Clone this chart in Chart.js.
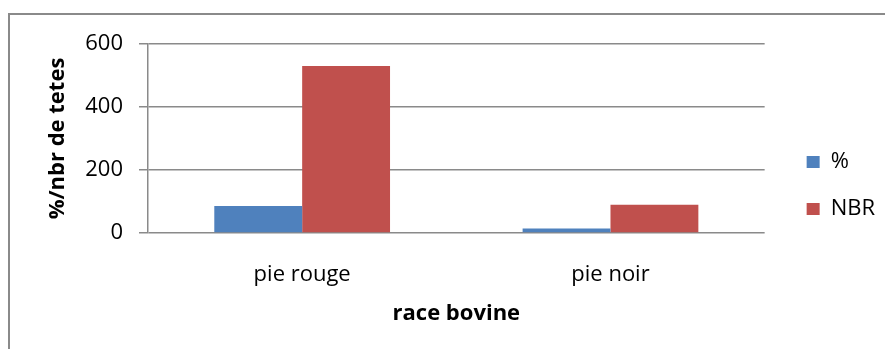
<!DOCTYPE html>
<html>
<head>
<meta charset="utf-8">
<script src="https://cdn.jsdelivr.net/npm/chart.js@4"></script>
<style>
  body { margin: 0; background: #fff; }
  #frame {
    position: absolute; left: 8px; top: 13px;
    width: 1000px; height: 500px;
    border: 2px solid #8a8a8a;
  }
  #myChart { position: absolute; left: 0; top: 0; }
</style>
</head>
<body>
<div id="frame"></div>
<canvas id="myChart" width="885" height="349"></canvas>
<script>
const races = ['pie rouge', 'pie noir'];
const pourcentages = [85.5, 14.5];
const nbrTetes = [530, 90];
const yTicks = [0, 200, 400, 600];

const police = 'Open Sans';
const taille = 22;
const gris = '#8a8a8a';

const ctx = document.getElementById('myChart');

new Chart(ctx, {
  type: 'bar',
  data: {
    labels: races,
    datasets: [{
      label: '%',
      data: pourcentages,
      backgroundColor: '#4f81bd'
    }, {
      label: 'NBR',
      data: nbrTetes,
      backgroundColor: '#c0504d'
    }]
  },
  options: {
    responsive: false,
    animation: false,
    layout: { padding: { top: 22, right: 0, bottom: 0, left: 0 } },
    datasets: {
      bar: { categoryPercentage: 0.57, barPercentage: 1 }
    },
    plugins: {
      tooltip: { enabled: false },
      legend: {
        position: 'right',
        labels: {
          boxWidth: 13,
          boxHeight: 12,
          padding: 25,
          color: '#000',
          font: { family: police, size: taille }
        }
      }
    },
    scales: {
      x: {
        grid: { display: false },
        border: { display: false },
        ticks: {
          color: '#000',
          padding: 21,
          font: { family: police, size: taille }
        },
        title: {
          display: true,
          text: 'race bovine',
          color: '#000',
          padding: { top: 0, bottom: 22 },
          font: { family: police, size: taille, weight: 'bold' }
        },
        afterFit: s => { s.height = 116; }
      },
      // axe vide en haut : décale la zone du graphique sans toucher la légende
      x2: {
        type: 'category',
        position: 'top',
        grid: { display: false },
        border: { display: false },
        ticks: { display: false },
        afterFit: s => { s.height = 22; }
      },
      y: {
        min: 0,
        max: 600,
        afterBuildTicks: s => { s.ticks = yTicks.map(v => ({ value: v })); },
        grid: { color: gris, lineWidth: 1.5, tickLength: 9 },
        border: { color: gris, width: 1.5 },
        ticks: {
          color: '#000',
          padding: 16,
          font: { family: police, size: taille }
        },
        title: {
          display: true,
          text: '%/nbr de tetes',
          color: '#000',
          padding: { top: 45, bottom: 0 },
          font: { family: police, size: taille, weight: 'bold' }
        },
        afterFit: s => { s.width = 148; }
      },
      // espace entre la zone du graphique et la légende
      y2: {
        type: 'linear',
        position: 'right',
        grid: { display: false },
        border: { display: false },
        ticks: { display: false },
        afterFit: s => { s.width = 17; }
      }
    }
  }
});
</script>
</body>
</html>
